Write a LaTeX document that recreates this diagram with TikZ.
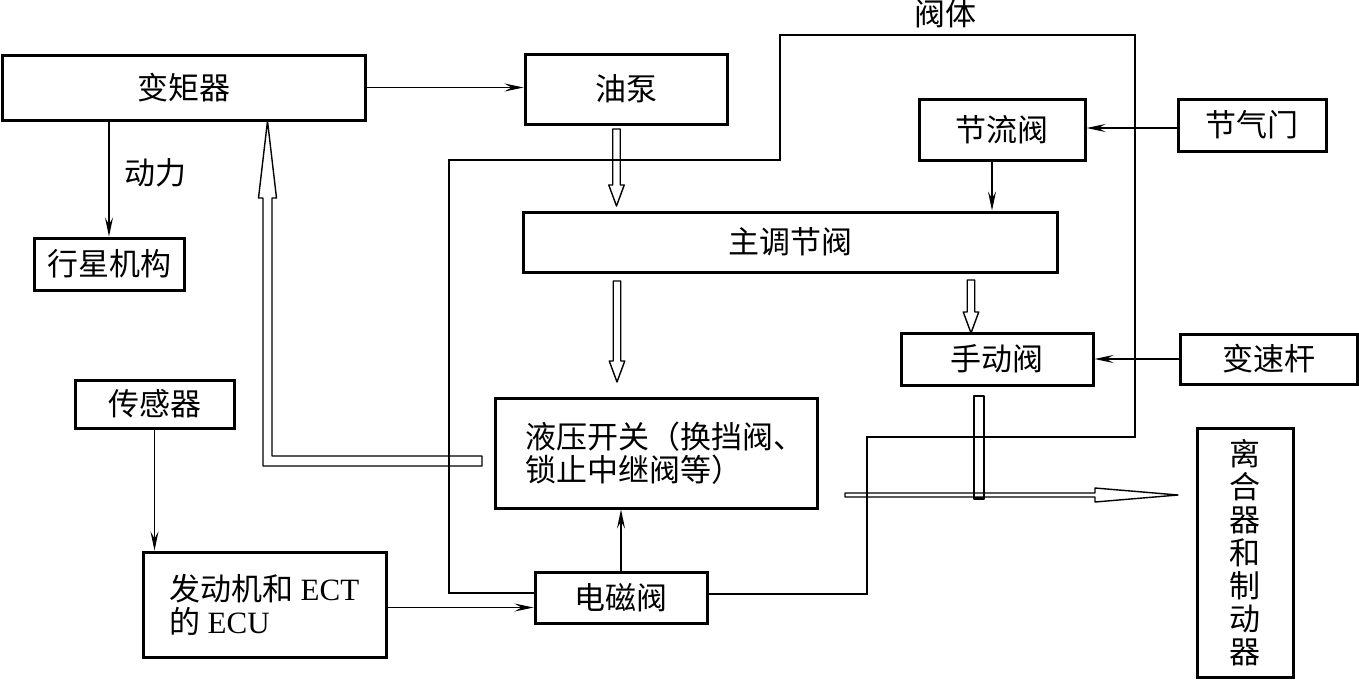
\documentclass[tikz,border=0pt]{standalone}
\usepackage{fontspec}
\setmainfont{Liberation Serif}
\newfontfamily\cjk{Noto Sans CJK SC}
\usetikzlibrary{arrows.meta}
\tikzset{
  box/.style={draw, line width=3pt, inner sep=0pt, font=\cjk\fontsize{31}{33}\selectfont},
  lbl/.style={inner sep=0pt, font=\cjk\fontsize{31}{33}\selectfont},
  arr/.style={line width=1.2pt, -{Stealth[length=19pt,width=8pt,inset=7pt]}},
  thinline/.style={line width=1.3pt},
  hollow/.style={line width=1.4pt, line join=round},
}
\newcommand\hdown[3]{\draw[hollow] (#1-3.75,#2) -- (#1-3.75,#3-21) -- (#1-7.75,#3-21) -- (#1,#3) -- (#1+7.75,#3-21) -- (#1+3.75,#3-21) -- (#1+3.75,#2) -- cycle;}
\begin{document}
\begin{tikzpicture}[x=1pt,y=-1pt]
\fill[white] (0,0) rectangle (1359,680);
\useasboundingbox (0,0) rectangle (1359,680);

% boxes
\node[box, minimum width=363pt, minimum height=65pt] (tc) at (183.5,87.5) {变矩器};
\node[box, minimum width=202pt, minimum height=70pt] (pump) at (626,89) {油泵};
\node[box, minimum width=166pt, minimum height=61pt] (jl) at (1002,129.5) {节流阀};
\node[box, minimum width=148pt, minimum height=52pt] (jqm) at (1252,125) {节气门};
\node[box, minimum width=534pt, minimum height=60pt] (ztj) at (790,242) {主调节阀};
\node[box, minimum width=322pt, minimum height=110pt, align=left, text width=300pt, inner xsep=0pt] (yy) at (656,453) {\hspace*{19pt}液压开关（换挡阀、\\\hspace*{19pt}锁止中继阀等）};
\node[box, minimum width=192pt, minimum height=52pt] (sd) at (997,359) {手动阀};
\node[box, minimum width=177pt, minimum height=50pt] (bsg) at (1268.5,359) {变速杆};
\node[box, minimum width=96pt, minimum height=249pt, align=center] (lhq) at (1245,552.5) {离\\合\\器\\和\\制\\动\\器};
\node[box, minimum width=150pt, minimum height=52pt] (xx) at (109,264) {行星机构};
\node[box, minimum width=159pt, minimum height=48pt] (cgq) at (154.5,404) {传感器};
\node[box, minimum width=243pt, minimum height=105pt, align=left] (ecu) at (264.5,604.5) {发动机和 {\rmfamily ECT}\\的 {\rmfamily ECU}};
\node[box, minimum width=172pt, minimum height=51pt] (dcf) at (621,597.5) {电磁阀};

% labels
\node[lbl] (ft) at (945,14) {阀体};
\node[lbl] (dl) at (155,173) {动力};

% valve body outline
\coordinate (vl) at (449,593);
\coordinate (vr) at (867,594);
\draw[thinline] (dcf.west |- vl) -- (vl) -- (449,160) -- (780,160) -- (780,35) -- (1135,35) -- (1135,437) -- (867,437) -- (vr) -- (dcf.east |- vr);

% thin arrows
\draw[arr] (tc.east) -- (tc.east -| pump.west);
\draw[arr] (tc.south -| xx.north) -- (xx.north);
\draw[arr] (cgq.south) -- (cgq.south |- ecu.north);
\draw[arr] ([yshift=-3pt]ecu.east) -- ([yshift=-3pt]ecu.east -| dcf.west);
\draw[arr] (dcf.north) -- (dcf.north |- yy.south);
\draw[arr] ([xshift=-10pt]jl.south) -- ([xshift=-10pt]jl.south |- ztj.north);
\draw[arr] ([yshift=-3pt]jqm.west) -- ([yshift=-3pt]jqm.west -| jl.east);
\draw[arr] (bsg.west) -- (bsg.west -| sd.east);

% hollow arrows
\hdown{616.5}{129}{206}
\hdown{617}{281}{382}
\hdown{971}{280}{333}
\draw[hollow] (482,456) -- (272,456) -- (272,198) -- (276.5,198) -- (267.5,121) -- (258.5,198) -- (263,198) -- (263,466) -- (482,466) -- cycle;
\draw[hollow] (974,396) rectangle (984,499);
\draw[line width=2.5pt] (974,497.8) -- (984,497.8);
\draw[hollow] (845,493) -- (1095,493) -- (1095,488) -- (1178,495) -- (1095,502) -- (1095,497) -- (845,497) -- cycle;
\end{tikzpicture}
\end{document}
